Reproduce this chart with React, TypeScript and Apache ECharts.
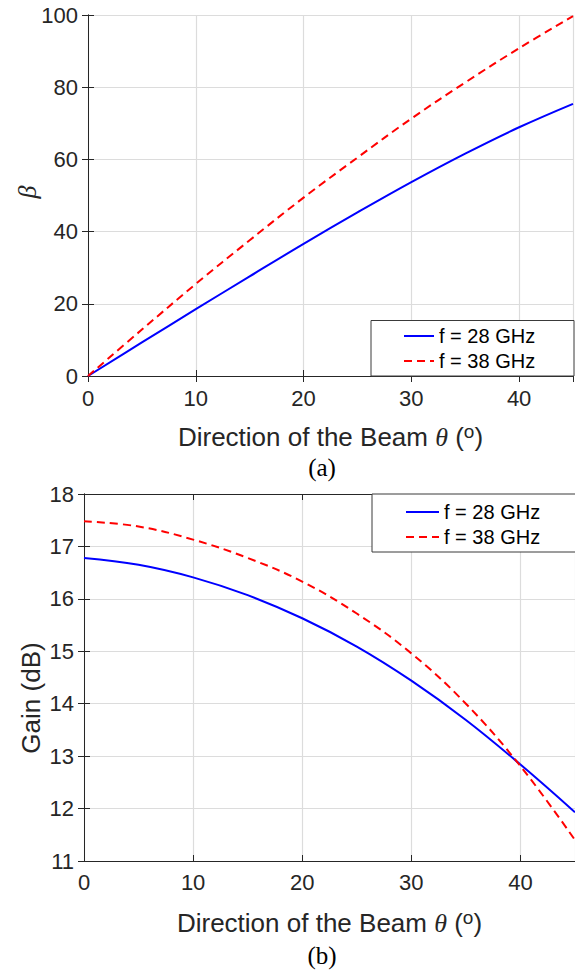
import React, { useEffect, useRef } from "react";
import * as echarts from "echarts";

// Beam direction θ (degrees)
const theta = [0, 5, 10, 15, 20, 25, 30, 35, 40, 45];
// (a) β versus θ
const beta28 = [0, 9.3, 18.5, 27.6, 36.6, 45.3, 53.7, 61.6, 68.9, 75.4];
const beta38 = [0, 12.85, 25.5, 37.6, 49.4, 60.5, 71.3, 81.3, 90.8, 99.7];
// (b) Gain versus θ
const gain28 = [16.78, 16.65, 16.41, 16.07, 15.63, 15.09, 14.44, 13.69, 12.84, 11.93];
const gain38 = [17.48, 17.38, 17.13, 16.78, 16.33, 15.72, 14.96, 14.0, 12.81, 11.4];

const seriesNames = ["f = 28 GHz", "f = 38 GHz"];
const xTicks = { min: 0, max: 45, interval: 10 };
const betaTicks = { min: 0, max: 100, interval: 20 };
const gainTicks = { min: 11, max: 18, interval: 1 };

const AX = "#262626";
const GRIDC = "#dcdcdc";
const SANS = "Liberation Sans, Arial, sans-serif";
const SERIF = "Liberation Serif, Times New Roman, serif";

export default function App() {
  const ref = useRef<HTMLDivElement>(null);
  useEffect(() => {
    if (!ref.current) return;
    const chart = echarts.init(ref.current, undefined, { renderer: "svg" });

    const tick = { show: true, inside: true, length: 6, lineStyle: { color: AX, width: 1 } };
    const axisLine = { show: true, lineStyle: { color: AX, width: 1 } };
    const splitLine = { show: true, lineStyle: { color: GRIDC, width: 1.2 } };
    const label = { color: AX, fontSize: 22, fontFamily: SANS };

    const xName = "Direction of the Beam {th|θ} ({sup|o})";
    const xNameStyle = {
      fontSize: 26,
      fontFamily: SANS,
      color: AX,
      lineHeight: 30,
      rich: {
        th: { fontSize: 26, fontFamily: SERIF, fontStyle: "italic", color: AX, lineHeight: 30 },
        sup: { fontSize: 19, fontFamily: SANS, color: AX, lineHeight: 16, verticalAlign: "top" },
      },
    };

    const mainX = (gridIndex: number, gap: number, margin: number) => ({
      type: "value",
      gridIndex,
      position: "bottom",
      ...xTicks,
      axisLine,
      axisTick: tick,
      splitLine,
      axisLabel: { ...label, margin, showMaxLabel: false },
      name: xName,
      nameLocation: "middle",
      nameGap: gap,
      nameTextStyle: xNameStyle,
    });
    const mirrorX = (gridIndex: number) => ({
      type: "value",
      gridIndex,
      position: "top",
      ...xTicks,
      axisLine,
      axisTick: tick,
      splitLine: { show: false },
      axisLabel: { show: false },
    });
    const mainY = (gridIndex: number, t: any) => ({
      type: "value",
      gridIndex,
      position: "left",
      ...t,
      axisLine,
      axisTick: tick,
      splitLine,
      axisLabel: { ...label, margin: 10 },
    });
    const mirrorY = (gridIndex: number, t: any) => ({
      type: "value",
      gridIndex,
      position: "right",
      ...t,
      axisLine,
      axisTick: tick,
      splitLine: { show: false },
      axisLabel: { show: false },
    });

    const mk = (xs: number[], ys: number[]) => xs.map((x, i) => [x, ys[i]]);
    const blueLine = { color: "#0000ff", width: 2, type: "solid" };
    const redLine = { color: "#ff0000", width: 2, type: [8, 5] };

    const legendBase = {
      data: seriesNames,
      orient: "vertical",
      padding: 0,
      itemGap: 5,
      itemHeight: 12,
      itemStyle: { opacity: 0 },
      textStyle: { fontSize: 20, fontFamily: SANS, color: "#000", lineHeight: 20 },
      z: 6,
    };

    const lineSeries = (name: string, idx: number, ys: number[], ls: any, color: string) => ({
      name,
      type: "line",
      xAxisIndex: idx,
      yAxisIndex: idx,
      data: mk(theta, ys),
      smooth: 0.4,
      symbol: "none",
      showSymbol: false,
      lineStyle: ls,
      itemStyle: { color },
      z: 3,
    });

    chart.setOption({
      animation: false,
      grid: [
        { left: 88, top: 15, width: 485, height: 361, containLabel: false },
        { left: 84, top: 494, width: 494, height: 367, containLabel: false },
      ],
      xAxis: [mainX(0, 46, 11), mirrorX(0), mainX(1, 47, 10), mirrorX(1)],
      yAxis: [mainY(0, betaTicks), mirrorY(0, betaTicks), mainY(1, gainTicks), mirrorY(1, gainTicks)],
      legend: [
        { ...legendBase, left: 403, top: 326, itemWidth: 30 },
        { ...legendBase, left: 405, top: 502, itemWidth: 33 },
      ],
      graphic: [
        {
          type: "rect",
          z: 5,
          shape: { x: 371, y: 320.5, width: 203, height: 55.5 },
          style: { fill: "#fff", stroke: "#3a3a3a", lineWidth: 1 },
        },
        {
          type: "rect",
          z: 5,
          shape: { x: 372, y: 494, width: 220, height: 58 },
          style: { fill: "#fff", stroke: "#3a3a3a", lineWidth: 1 },
        },
        {
          type: "text",
          x: 27,
          y: 192,
          rotation: Math.PI / 2,
          style: {
            text: "β",
            fontSize: 26,
            fontFamily: SERIF,
            fontStyle: "italic",
            fill: AX,
            textAlign: "center",
            textVerticalAlign: "middle",
          },
        },
        {
          type: "text",
          x: 31,
          y: 698,
          rotation: Math.PI / 2,
          style: {
            text: "Gain (dB)",
            fontSize: 26,
            fontFamily: SANS,
            fill: AX,
            textAlign: "center",
            textVerticalAlign: "middle",
          },
        },
        {
          type: "text",
          x: 322,
          y: 467,
          style: {
            text: "(a)",
            fontSize: 25,
            fontFamily: SERIF,
            fill: "#000",
            textAlign: "center",
            textVerticalAlign: "middle",
          },
        },
        {
          type: "text",
          x: 322,
          y: 955,
          style: {
            text: "(b)",
            fontSize: 25,
            fontFamily: SERIF,
            fill: "#000",
            textAlign: "center",
            textVerticalAlign: "middle",
          },
        },
      ],
      series: [
        lineSeries(seriesNames[0], 0, beta28, blueLine, "#0000ff"),
        lineSeries(seriesNames[1], 0, beta38, redLine, "#ff0000"),
        lineSeries(seriesNames[0], 2, gain28, blueLine, "#0000ff"),
        lineSeries(seriesNames[1], 2, gain38, redLine, "#ff0000"),
      ],
    });
    return () => chart.dispose();
  }, []);
  return (
    <div
      ref={ref}
      style={{ position: "absolute", left: 0, top: 0, width: 575, height: 971, background: "#fff" }}
    />
  );
}
